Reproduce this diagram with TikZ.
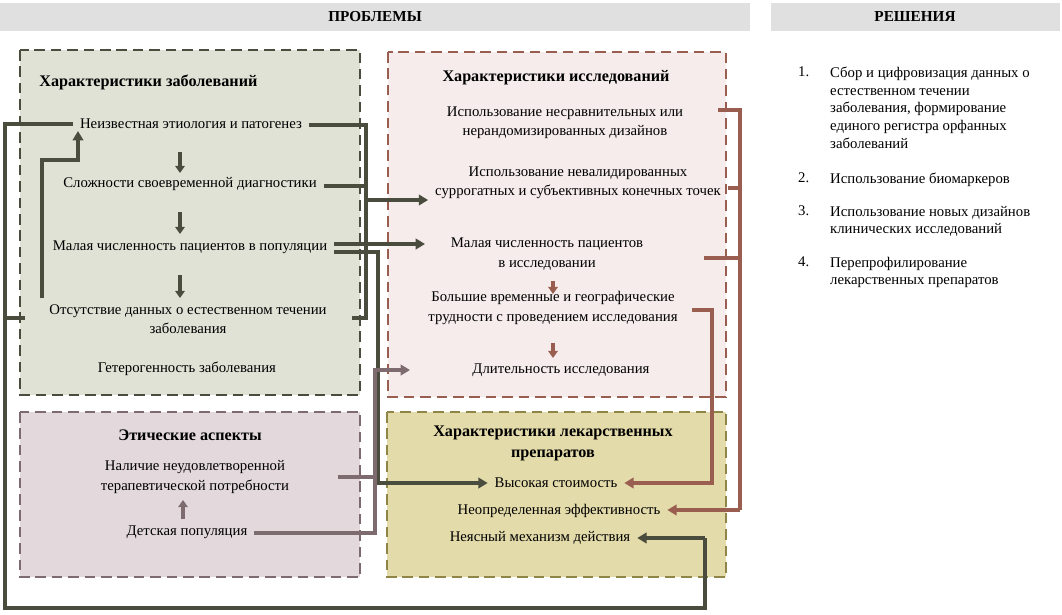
\documentclass[tikz,border=0pt]{standalone}
\usepackage{fontspec}
\setmainfont{Liberation Serif}
\usetikzlibrary{arrows.meta}
\definecolor{hdrgrey}{RGB}{224,224,224}
\definecolor{disfill}{RGB}{223,226,213}
\definecolor{disline}{RGB}{74,77,62}
\definecolor{resfill}{RGB}{245,236,235}
\definecolor{resline}{RGB}{154,94,80}
\definecolor{ethfill}{RGB}{227,217,220}
\definecolor{ethline}{RGB}{125,107,111}
\definecolor{drgfill}{RGB}{228,219,170}
\definecolor{drgline}{RGB}{143,133,71}

\begin{document}
\begin{tikzpicture}[x=0.03cm,y=-0.03cm,
    txt/.style={font=\fontsize{12.6}{16.5}\selectfont, align=center, inner sep=1pt, outer sep=5pt},
    ttl/.style={font=\fontsize{13.8}{18}\selectfont\bfseries, align=center, inner sep=1pt},
    area/.style={dashed, dash pattern=on 9pt off 5pt, line width=2pt},
    link/.style={line width=3.3pt},
    tip/.style={-{Triangle[length=8pt,width=9pt]}},
    small/.style={line width=2.6pt,-{Triangle[length=6pt,width=8pt]}}]
    \useasboundingbox (0,0) rectangle (1062,614);

    % Headers
    \fill[hdrgrey] (0,3) rectangle (750,31);
    \node[ttl, font=\fontsize{13}{16}\selectfont\bfseries] (hprob) at (375,17) {ПРОБЛЕМЫ};
    \fill[hdrgrey] (771,3) rectangle (1060,31);
    \node[ttl, font=\fontsize{13}{16}\selectfont\bfseries] (hsol) at (915,17) {РЕШЕНИЯ};

    % Areas
    \draw[area, fill=disfill, draw=disline] (20,50) rectangle (360,395);
    \draw[area, fill=resfill, draw=resline] (388,52) rectangle (726,397);
    \draw[area, fill=ethfill, draw=ethline] (20,412) rectangle (360,577);
    \draw[area, fill=drgfill, draw=drgline] (387,412) rectangle (726,577);

    % Disease characteristics
    \node[ttl, anchor=west] (dtitle) at (38,82) {Характеристики заболеваний};
    \node[txt] (etio) at (191,124) {Неизвестная этиология и патогенез};
    \node[txt] (diag) at (190,184) {Сложности своевременной диагностики};
    \node[txt] (popul) at (190,247) {Малая численность пациентов в популяции};
    \node[txt] (natur) at (188,319) {Отсутствие данных о естественном течении\\заболевания};
    \node[txt] (heter) at (187,369) {Гетерогенность заболевания};
    \foreach \ya/\yb in {152/173,212/234,275/298}
        \draw[small, disline] (180,\ya) -- (180,\yb);

    % Research characteristics
    \node[ttl] (rtitle) at (556,78) {Характеристики исследований};
    \node[txt] (nonrand) at (565,123) {Использование несравнительных или\\нерандомизированных дизайнов};
    \node[txt] (surrog) at (578,183) {Использование невалидированных\\суррогатных и субъективных конечных точек};
    \node[txt] (rsmall) at (547,254) {Малая численность пациентов\\в исследовании};
    \node[txt] (geo) at (553,308) {Большие временные и географические\\трудности с проведением исследования};
    \node[txt] (durat) at (561,370) {Длительность исследования};
    \draw[small, resline] (553,281) -- (553,294);
    \draw[small, resline] (553,343) -- (553,358);

    % Ethical aspects
    \node[ttl] (etitle) at (190,435) {Этические аспекты};
    \node[txt] (unmet) at (195,477) {Наличие неудовлетворенной\\терапевтической потребности};
    \node[txt] (child) at (187,532) {Детская популяция};
    \draw[small, ethline] (183,519) -- (183,500);

    % Drug characteristics
    \node[ttl] (gtitle) at (553,443) {Характеристики лекарственных\\препаратов};
    \node[txt] (cost) at (556,483) {Высокая стоимость};
    \node[txt] (effic) at (559,511) {Неопределенная эффективность};
    \node[txt] (mech) at (540,538) {Неясный механизм действия};

    % Solutions
    \foreach \n/\y/\t in {1/74/{Сбор и цифровизация данных о\\естественном течении\\заболевания, формирование\\единого регистра орфанных\\заболеваний},
                          2/180/{Использование биомаркеров},
                          3/213/{Использование новых дизайнов\\клинических исследований},
                          4/264/{Перепрофилирование\\лекарственных препаратов}} {
        \node[txt, outer sep=0pt, anchor=north west, font=\fontsize{12.6}{15}\selectfont] (num\n) at (797,\y-8) {\n.};
        \node[txt, outer sep=0pt, anchor=north west, align=left, font=\fontsize{12.6}{15}\selectfont] (sol\n) at (829,\y-8) {\t};
    }

    % Disease connectors
    \draw[link, disline] (etio.west) -- (5,124) -- (5,608) -- (705,608) -- (705,538);
    \draw[link, disline, tip] (705,538) -- (mech.east |- 0,538);
    \draw[link, disline] (25,318) -- (5,318);
    \draw[link, disline, tip] (42,298) -- (42,160) -- (78,160) -- (78,131);
    \draw[link, disline] (etio.east |- 0,125) -- (366,125) -- (366,318) -- (352,318);
    \draw[link, disline] (diag.east |- 0,186) -- (366,186);
    \draw[link, disline, tip] (366,200) -- (surrog.west |- 0,200);
    \draw[link, disline, tip] (popul.east |- 0,244) -- (425,244);
    \draw[link, disline, tip] (popul.east |- 0,252) -- (378,252) -- (378,483) -- (cost.west |- 0,483);

    % Ethical connectors
    \draw[link, ethline] (338,477) -- (375,477);
    \draw[link, ethline, tip] (child.east |- 0,533) -- (375,533) -- (375,370) -- (410,370);

    % Research connectors
    \draw[link, resline] (718,110) -- (740,110) -- (740,510);
    \draw[link, resline, tip] (740,510) -- (effic.east |- 0,510);
    \draw[link, resline] (surrog.east |- 0,188) -- (740,188);
    \draw[link, resline] (704,258) -- (740,258);
    \draw[link, resline, tip] (692,310) -- (712,310) -- (712,483) -- (cost.east |- 0,483);
\end{tikzpicture}
\end{document}
